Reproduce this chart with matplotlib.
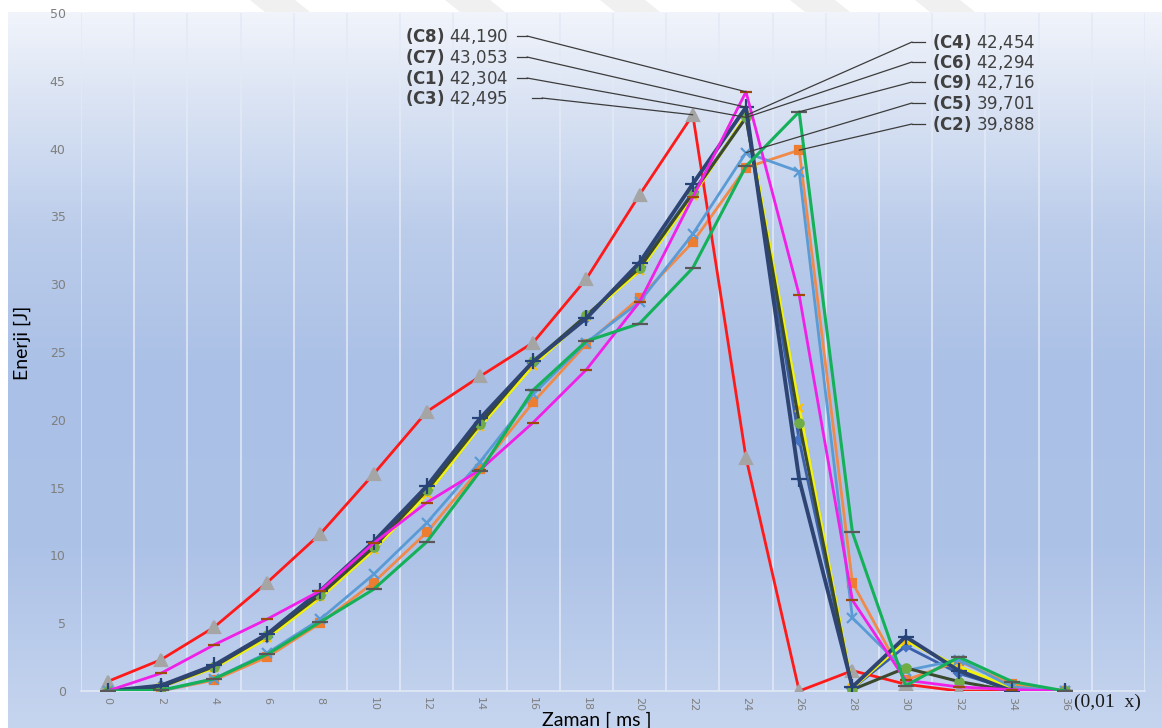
import numpy as np
import matplotlib.pyplot as plt
from matplotlib.colors import LinearSegmentedColormap
from matplotlib.lines import Line2D
from matplotlib.patches import Polygon

# time axis (0,01 ms steps)
times = [0, 2, 4, 6, 8, 10, 12, 14, 16, 18, 20, 22, 24, 26, 28, 30, 32, 34, 36]

c1 = [0, 0.4, 1.8, 4.0, 7.1, 10.7, 14.8, 19.8, 24.2, 27.5, 31.3, 36.8, 42.304, 18.5, 0.2, 3.3, 1.3, 0.1, 0]
c2 = [0, 0, 0.8, 2.5, 5.0, 8.0, 11.7, 16.4, 21.3, 25.6, 29.0, 33.1, 38.6, 39.888, 8.0, 0.8, 2.2, 0.5, 0]
c3 = [0.7, 2.3, 4.7, 8.0, 11.6, 16.0, 20.6, 23.2, 25.7, 30.4, 36.6, 42.495, 17.2, 0, 1.5, 0.5, 0, 0, 0]
c4 = [0, 0.3, 1.7, 3.9, 6.9, 10.4, 14.5, 19.5, 24.0, 27.6, 31.0, 36.5, 42.454, 20.9, 0.2, 3.7, 1.8, 0.2, 0]
c5 = [0, 0, 0.9, 2.8, 5.3, 8.6, 12.4, 16.9, 21.9, 25.7, 28.7, 33.7, 39.701, 38.3, 5.4, 1.5, 2.3, 0.3, 0]
c6 = [0, 0.3, 1.8, 4.1, 7.1, 10.6, 14.8, 19.7, 24.3, 27.7, 31.2, 36.7, 42.294, 19.8, 0.1, 1.7, 0.7, 0, 0]
c7 = [0, 0.4, 1.9, 4.2, 7.4, 11.0, 15.1, 20.1, 24.3, 27.5, 31.6, 37.4, 43.053, 15.6, 0.3, 4.0, 1.5, 0, 0]
c8 = [0, 1.3, 3.4, 5.3, 7.4, 10.9, 13.9, 16.3, 19.8, 23.7, 28.7, 36.4, 44.190, 29.2, 6.7, 0.8, 0.3, 0.1, 0]
c9 = [0, 0.05, 0.9, 2.7, 5.1, 7.5, 11.0, 16.2, 22.2, 25.8, 27.1, 31.2, 38.7, 42.716, 11.7, 0.4, 2.5, 0.7, 0]

series = {"C1": c1, "C2": c2, "C3": c3, "C4": c4, "C5": c5,
          "C6": c6, "C7": c7, "C8": c8, "C9": c9}

# line colour, line width, marker, marker colour, marker size
styles = {
    "C1": ("#3A5FA8", 2.0, "D", "#4472C4", 5),
    "C2": ("#F08A4B", 2.0, "s", "#ED7D31", 6),
    "C3": ("#FF1A1A", 2.0, "^", "#A5A5A5", 8),
    "C4": ("#F2F20A", 2.2, "x", "#FFC000", 6),
    "C5": ("#5B9BD5", 2.0, "x", "#5B9BD5", 7),
    "C6": ("#3B4A2E", 2.2, "o", "#70AD47", 6),
    "C7": ("#2E4472", 2.8, "+", "#264478", 11),
    "C8": ("#F020E8", 2.0, "_", "#9E480E", 9),
    "C9": ("#14B05A", 2.2, "_", "#595959", 11),
}

W, H = 1162, 728
fig = plt.figure(figsize=(W / 100, H / 100), dpi=100)


def fx(px):
    return px / W


def fy(py):
    return 1 - py / H


# chart area gradient
bg = fig.add_axes([0, 0, 1, 1])
bg.set_xlim(0, W)
bg.set_ylim(H, 0)
bg.axis("off")
grad = LinearSegmentedColormap.from_list("bg", [
    (0.0, "#f1f4fb"), (0.12, "#dbe4f4"), (0.3, "#bccdeb"),
    (0.5, "#aac0e6"), (0.75, "#adc2e7"), (1.0, "#c6d5ef")])
bg.imshow(np.linspace(0, 1, 256).reshape(-1, 1), cmap=grad, aspect="auto",
          extent=[8, W, H, 12], zorder=0)
for x0 in [250, 445, 600, 790, 915]:
    bg.add_patch(Polygon([[x0, 0], [x0 + 45, 0], [x0 + 60, 12], [x0 + 15, 12]],
                         closed=True, color="#f0f0f0", lw=0, zorder=1))

ax = fig.add_axes([fx(81), fy(691), fx(1064), 678 / H])
ax.patch.set_alpha(0)

idx = np.arange(len(times))
for name, vals in series.items():
    lc, lw, mk, mc, ms = styles[name]
    ax.plot(idx, vals, color=lc, lw=lw, marker=mk, markersize=ms,
            markerfacecolor=mc, markeredgecolor=mc, markeredgewidth=1.6,
            zorder=3)

ax.set_xlim(-0.5, len(times) + 0.5)
ax.set_ylim(0, 50)
ax.set_yticks(np.arange(0, 51, 5))
ax.set_xticks(idx)
ax.set_xticklabels([str(t) for t in times], rotation=270)
ax.set_xticks(np.arange(-0.5, len(times) + 1, 1), minor=True)
ax.grid(which="minor", axis="x", color="#e3eaf6", lw=1.1, zorder=1)
ax.tick_params(which="both", length=0)
ax.tick_params(axis="y", labelsize=9, labelcolor="#7f7f7f", pad=11)
ax.tick_params(axis="x", labelsize=8, labelcolor="#7f7f7f", pad=4)
for s in ["left", "right", "top"]:
    ax.spines[s].set_visible(False)
ax.spines["bottom"].set_color("#e3eaf6")
ax.spines["bottom"].set_linewidth(1.1)

fig.text(fx(22), fy(343), "Enerji [J]", rotation=90, ha="center", va="center",
         fontsize=14, family="Lato", color="black")
fig.text(fx(597), fy(720), "Zaman [ ms ]", ha="center", va="center",
         fontsize=14, family="Lato", color="black")
fig.text(fx(1074), fy(702), "(0,01  x)", ha="left", va="center",
         fontsize=14, family="Liberation Serif", color="#1a1a1a")

# peak value labels with leader lines
left_labels = [("C8", 36, 517), ("C7", 57, 517), ("C1", 78, 517), ("C3", 98, 532)]
right_labels = [("C4", 42), ("C6", 62), ("C9", 82), ("C5", 103), ("C2", 124)]

lead = "#3c3c3c"


def peak_label(name, ty, side, stub0):
    vals = series[name]
    i = int(np.argmax(vals))
    txt = r"$\mathbf{(%s)}$ %s" % (name, f"{vals[i]:.3f}".replace(".", ","))
    if side == "left":
        fig.text(fx(508), fy(ty), txt, ha="right", va="center", fontsize=12,
                 color="#404040")
        stub1 = stub0 + 10
    else:
        fig.text(fx(932), fy(ty), txt, ha="left", va="center", fontsize=12,
                 color="#404040")
        stub1 = stub0 - 13
    fig.add_artist(Line2D([fx(stub0), fx(stub1)], [fy(ty), fy(ty)],
                          color=lead, lw=0.9, transform=fig.transFigure))
    ax.annotate("", xy=(i, vals[i]), xycoords="data",
                xytext=(fx(stub1), fy(ty)), textcoords="figure fraction",
                arrowprops=dict(arrowstyle="-", color=lead, lw=0.9,
                                shrinkA=0, shrinkB=0), zorder=4)


for name, ty, s0 in left_labels:
    peak_label(name, ty, "left", s0)
for name, ty in right_labels:
    peak_label(name, ty, "right", 925)

fig.savefig("out.png", dpi=100)
